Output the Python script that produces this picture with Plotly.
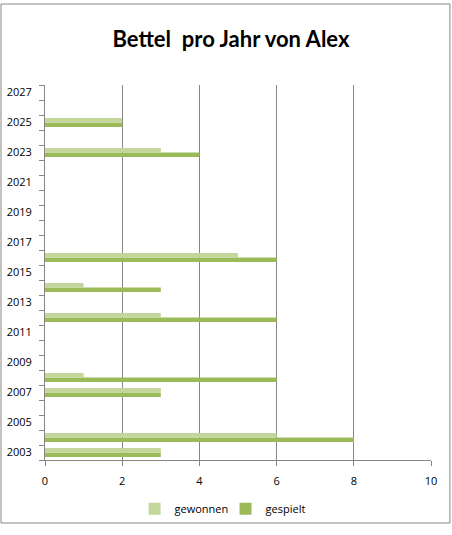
import plotly.graph_objects as go

# Données
annees = [2003, 2004, 2007, 2008, 2012, 2014, 2016, 2023, 2025]
gewonnen = [3, 6, 3, 1, 3, 1, 5, 3, 2]
gespielt = [3, 8, 3, 6, 6, 3, 6, 4, 2]

couleur_gewonnen = "#C3D69B"
couleur_gespielt = "#9BBB59"
gris = "#868686"

fig = go.Figure()

# gespielt d'abord pour qu'il soit en dessous dans chaque groupe
fig.add_trace(go.Bar(
    y=annees, x=gespielt, name="gespielt", orientation="h",
    marker=dict(color=couleur_gespielt, line=dict(width=0))
))
fig.add_trace(go.Bar(
    y=annees, x=gewonnen, name="gewonnen", orientation="h",
    marker=dict(color=couleur_gewonnen, line=dict(width=0))
))

fig.update_layout(
    width=452, height=535,
    margin=dict(l=45, r=21, t=85, b=65),
    paper_bgcolor="white", plot_bgcolor="white",
    font=dict(family="Open Sans, Liberation Sans, sans-serif", size=11, color="black"),
    title=dict(text="<b>Bettel  pro Jahr von Alex</b>", x=0.511, xanchor="center",
               y=0.926, yanchor="middle",
               font=dict(family="Lato, Open Sans, sans-serif", size=22, color="black")),
    barmode="group", bargap=0.41, bargroupgap=0,
    legend=dict(orientation="h", traceorder="reversed", x=0.232, xanchor="left",
                y=-0.13, yanchor="middle", font=dict(size=11),
                itemwidth=30, entrywidth=46, bgcolor="rgba(0,0,0,0)"),
    showlegend=True,
)

fig.update_xaxes(
    range=[0, 10], dtick=2, tick0=0,
    showgrid=True, gridcolor=gris, gridwidth=1,
    showline=True, linecolor=gris, linewidth=1,
    ticks="outside", ticklen=5, tickcolor=gris, ticklabelstandoff=6,
    zeroline=False, fixedrange=True, automargin=False,
)

fig.update_yaxes(
    range=[2002.5, 2027.5], tick0=2003, dtick=2,
    showgrid=False, zeroline=False,
    showline=True, linecolor=gris, linewidth=1,
    ticks="", ticklabelstandoff=10,
    minor=dict(tick0=2002.5, dtick=1, ticks="outside", ticklen=5, tickcolor=gris),
    fixedrange=True, automargin=False,
)

# cadre autour du graphique
fig.add_shape(type="rect", xref="paper", yref="paper",
              x0=-0.114, x1=1.049, y0=-0.168, y1=1.216,
              line=dict(color=gris, width=1), fillcolor="rgba(0,0,0,0)")

fig.write_html("out.html", config={"displayModeBar": False},
               post_script="document.body.style.margin='0px';")
